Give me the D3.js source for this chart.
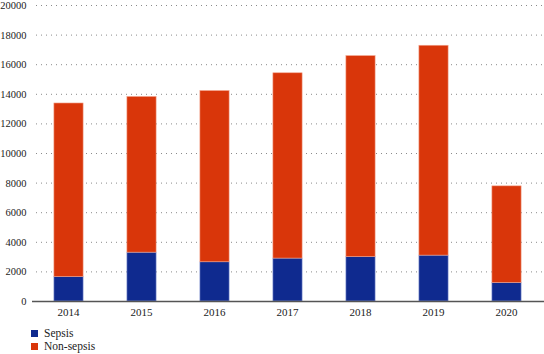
<!DOCTYPE html>
<html>
<head>
<meta charset="utf-8">
<script src="https://cdn.jsdelivr.net/npm/d3@7"></script>
<style>
  body { margin: 0; background: #fff; }
</style>
</head>
<body>
<div id="chart"></div>
<script>
// data
const years = ["2014", "2015", "2016", "2017", "2018", "2019", "2020"];
const sepsis = [1650, 3300, 2650, 2900, 3000, 3100, 1250];
const totals = [13380, 13820, 14220, 15420, 16580, 17280, 7780];
const nonSepsis = totals.map((t, i) => t - sepsis[i]);
const yTicks = [0, 2000, 4000, 6000, 8000, 10000, 12000, 14000, 16000, 18000, 20000];
const seriesNames = ["Sepsis", "Non-sepsis"];
const colors = ["#0f2a8f", "#d9360a"];

const font = "'Liberation Serif', 'DejaVu Serif', serif";
const width = 544, height = 354;
const margin = { top: 5, right: 1, bottom: 53, left: 32 };

const svg = d3.select("#chart")
  .append("svg")
  .attr("width", width)
  .attr("height", height)
  .attr("font-family", font);

const x = d3.scaleBand()
  .domain(years)
  .range([margin.left, width - margin.right])
  .paddingInner(0.6)
  .paddingOuter(0.3);

const y = d3.scaleLinear()
  .domain([0, 20000])
  .range([height - margin.bottom, margin.top]);

// dotted grid lines
svg.append("g")
  .selectAll("line")
  .data(yTicks.slice(1))
  .enter()
  .append("line")
  .attr("x1", margin.left + 4)
  .attr("x2", width)
  .attr("y1", d => y(d) + 0.5)
  .attr("y2", d => y(d) + 0.5)
  .attr("stroke", "#8a8a8a")
  .attr("stroke-width", 1)
  .attr("stroke-dasharray", "1,4");

// y labels
svg.append("g")
  .selectAll("text")
  .data(yTicks)
  .enter()
  .append("text")
  .attr("x", 26.5)
  .attr("y", d => y(d) + 4)
  .attr("text-anchor", "end")
  .attr("font-family", font)
  .attr("font-size", 10.5)
  .attr("fill", "#222")
  .text(d => d);

// stacked bars
const stacked = d3.stack().keys([0, 1])(years.map((yr, i) => ({ year: yr, 0: sepsis[i], 1: nonSepsis[i] })));

svg.append("g")
  .selectAll("g")
  .data(stacked)
  .enter()
  .append("g")
  .attr("fill", (d, i) => colors[i])
  .attr("stroke", (d, i) => i === 0 ? "#8f9ed8" : "#f3a58e")
  .attr("stroke-width", 0.6)
  .selectAll("rect")
  .data(d => d)
  .enter()
  .append("rect")
  .attr("x", d => x(d.data.year))
  .attr("width", x.bandwidth())
  .attr("y", d => y(d[1]))
  .attr("height", d => y(d[0]) - y(d[1]));

// x axis
svg.append("line")
  .attr("x1", margin.left)
  .attr("x2", width)
  .attr("y1", y(0) + 0.5)
  .attr("y2", y(0) + 0.5)
  .attr("stroke", "#555")
  .attr("stroke-width", 1.5);

svg.append("g")
  .selectAll("text")
  .data(years)
  .enter()
  .append("text")
  .attr("x", d => x(d) + x.bandwidth() / 2)
  .attr("y", y(0) + 15)
  .attr("text-anchor", "middle")
  .attr("font-family", font)
  .attr("font-size", 11)
  .attr("fill", "#222")
  .text(d => d);

// legend
const legend = svg.append("g")
  .selectAll("g")
  .data(seriesNames)
  .enter()
  .append("g")
  .attr("transform", (d, i) => `translate(31, ${330 + i * 13})`);

legend.append("rect")
  .attr("width", 7)
  .attr("height", 7)
  .attr("fill", (d, i) => colors[i]);

legend.append("text")
  .attr("x", 13)
  .attr("y", 7)
  .attr("font-family", font)
  .attr("font-size", 11.5)
  .attr("fill", "#222")
  .text(d => d);
</script>
</body>
</html>
